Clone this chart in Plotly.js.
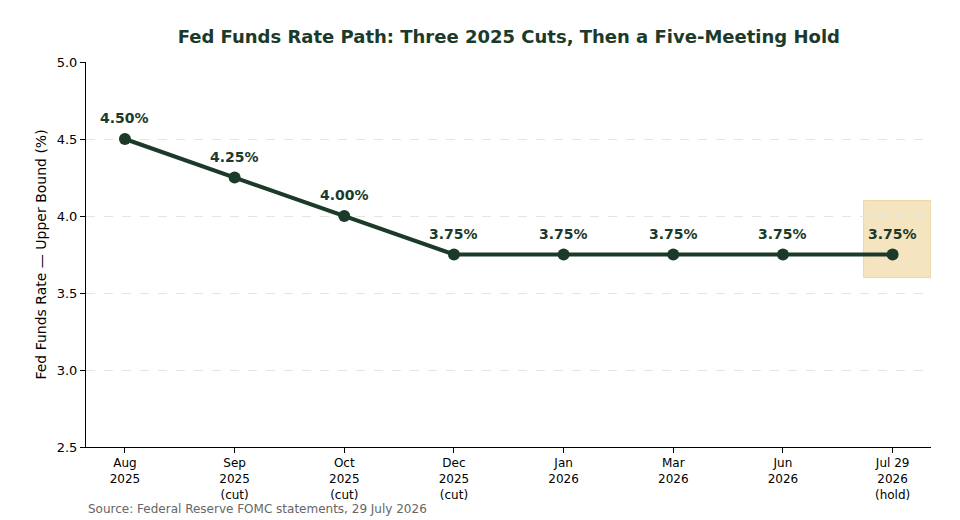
<!DOCTYPE html>
<html><head><meta charset="utf-8">
<script src="https://cdn.plot.ly/plotly-3.0.1.min.js"></script>
<style>body{margin:0;background:#fff}#chart{width:960px;height:520px}</style>
</head><body><div id="chart"></div>
<script>
const categories = ["Aug<br>2025","Sep<br>2025<br>(cut)","Oct<br>2025<br>(cut)","Dec<br>2025<br>(cut)","Jan<br>2026","Mar<br>2026","Jun<br>2026","Jul 29<br>2026<br>(hold)"];
const rates = [4.50, 4.25, 4.00, 3.75, 3.75, 3.75, 3.75, 3.75];
const rateLabels = rates.map(v => v.toFixed(2) + "%");
const highlightBand = [3.6, 4.1];

const dark = "#1b3a2a";
const font = "DejaVu Sans, sans-serif";
const n = categories.length;
const xIdx = categories.map((_, i) => i);

const trace = {
  x: xIdx, y: rates, type: "scatter", mode: "lines+markers",
  line: {color: dark, width: 4},
  marker: {color: dark, size: 12},
  cliponaxis: false, hoverinfo: "skip"
};

const labelAnns = xIdx.map((i) => ({
  x: i, y: rates[i], xref: "x", yref: "y", text: "<b>" + rateLabels[i] + "</b>",
  showarrow: false, yanchor: "middle", xanchor: "center", yshift: 21,
  font: {family: font, size: 14, color: dark}
}));

const layout = {
  width: 960, height: 520,
  margin: {l: 86, r: 29, t: 62, b: 73},
  paper_bgcolor: "#fff", plot_bgcolor: "#fff",
  showlegend: false,
  font: {family: font, size: 12, color: "#000"},
  title: {text: "<b>Fed Funds Rate Path: Three 2025 Cuts, Then a Five-Meeting Hold</b>",
    font: {family: font, size: 18, color: dark}, x: 0.53, xanchor: "center", y: 0.929, yanchor: "middle"},
  xaxis: {
    range: [-0.355, n - 1 + 0.35], tickmode: "array", tickvals: xIdx, ticktext: categories,
    showgrid: false, zeroline: false, showline: true, linecolor: "#000", linewidth: 1,
    ticks: "outside", ticklen: 5, tickcolor: "#000", tickfont: {size: 12, family: font}
  },
  yaxis: {
    range: [2.5, 5.0], dtick: 0.5, tickformat: ".1f",
    showgrid: true, gridcolor: "#e4e4e4", griddash: "dash", gridwidth: 1,
    zeroline: false, showline: true, linecolor: "#000", linewidth: 1,
    ticks: "outside", ticklen: 5, tickcolor: "#000", tickfont: {size: 13, family: font},
    title: {text: "Fed Funds Rate — Upper Bound (%)", font: {size: 14, family: font}, standoff: 6}
  },
  shapes: [{
    type: "rect", xref: "x", yref: "y", layer: "below",
    x0: n - 1 - 0.265, x1: n - 1 + 0.35, y0: highlightBand[0], y1: highlightBand[1],
    fillcolor: "rgba(236,212,150,0.6)", line: {color: "rgba(230,205,140,0.7)", width: 1}
  }],
  annotations: labelAnns.concat([{
    text: "Source: Federal Reserve FOMC statements, 29 July 2026",
    xref: "paper", yref: "paper", x: 0, y: -0.162, xanchor: "left", yanchor: "middle",
    showarrow: false, font: {size: 12, color: "#666", family: font}
  }])
};

Plotly.newPlot("chart", [trace], layout, {displayModeBar: false, staticPlot: true});
</script></body></html>
